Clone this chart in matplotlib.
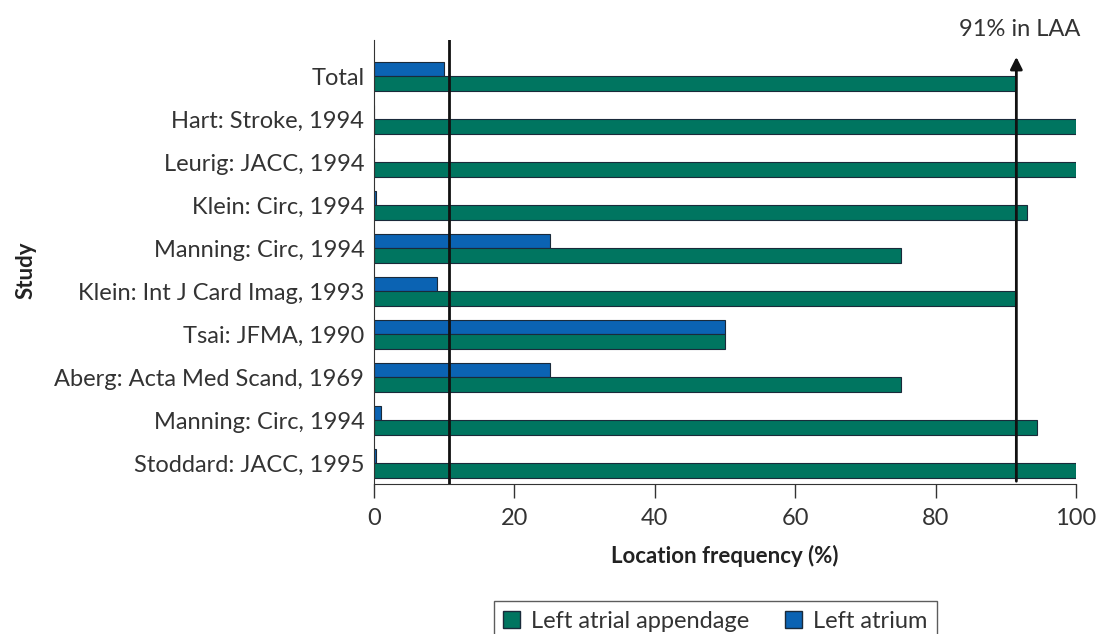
import matplotlib
matplotlib.use("Agg")
import matplotlib.pyplot as plt
from matplotlib.patches import Patch

studies = ["Total", "Hart: Stroke, 1994", "Leurig: JACC, 1994", "Klein: Circ, 1994",
           "Manning: Circ, 1994", "Klein: Int J Card Imag, 1993", "Tsai: JFMA, 1990",
           "Aberg: Acta Med Scand, 1969", "Manning: Circ, 1994", "Stoddard: JACC, 1995"]
laa = [91.5, 100, 100, 93, 75, 91.5, 50, 75, 94.5, 100]
la = [10, 0, 0, 0.3, 25, 9, 50, 25, 1, 0.3]
xticks = [0, 20, 40, 60, 80, 100]
total_la_line = 10.7
total_laa_line = 91.5

green = "#007560"
blue = "#0b63b3"
txt = "#333333"
plt.rcParams['font.family'] = ['Lato', 'DejaVu Sans']

fig = plt.figure(figsize=(10.99, 6.34), dpi=100)
ax = fig.add_axes([0.3403, 0.2366, 0.6388, 0.7004])

n = len(studies)
pos = [n - 1 - i for i in range(n)]
h = 0.33
ax.barh([p + h / 2 for p in pos], la, height=h, color=blue, edgecolor="#1a2a3a", linewidth=0.8)
ax.barh([p - h / 2 for p in pos], laa, height=h, color=green, edgecolor="#1a2a3a", linewidth=0.8)

ax.set_xlim(0, 100)
ax.set_ylim(-0.477, 9.85)
ax.set_yticks(pos)
ax.set_yticklabels(studies, fontsize=17, color=txt)
ax.tick_params(axis='y', length=0, pad=7)
ax.set_xticks(xticks)
ax.set_xticklabels([str(t) for t in xticks], fontsize=17, color=txt)
ax.tick_params(axis='x', length=10, width=1, direction='out', pad=7, color="#333333")
for s in ["top", "right"]:
    ax.spines[s].set_visible(False)
ax.spines["left"].set_color("#333333")
ax.spines["bottom"].set_color("#333333")

ax.axvline(total_la_line, color="#111111", lw=2)
ax.annotate("", xy=(total_laa_line, 0.968), xycoords=('data', 'axes fraction'),
            xytext=(total_laa_line, 0), textcoords=('data', 'axes fraction'),
            arrowprops=dict(arrowstyle="-|>", color="#111111", lw=2, mutation_scale=18),
            annotation_clip=False)
ax.text(total_laa_line + 0.5, 1.0, "91% in LAA", transform=ax.get_xaxis_transform(),
        ha="center", va="bottom", fontsize=17, color=txt)

ax.set_xlabel("Location frequency (%)", fontsize=16, fontweight="bold", color="#222222", labelpad=12)
fig.text(0.024, 0.574, "Study", rotation=90, fontsize=16, fontweight="bold", color="#222222",
         ha="center", va="center")

handles = [Patch(facecolor=green, edgecolor="#1a2a3a", label="Left atrial appendage"),
           Patch(facecolor=blue, edgecolor="#1a2a3a", label="Left atrium")]
leg = fig.legend(handles=handles, loc="lower center", bbox_to_anchor=(0.651, -0.03), ncol=2,
                 fontsize=17, frameon=True, fancybox=False, edgecolor="#333333",
                 handlelength=0.7, handleheight=0.7, columnspacing=1.5, handletextpad=0.5)
for t in leg.get_texts():
    t.set_color(txt)

fig.savefig("out.png", dpi=100)
